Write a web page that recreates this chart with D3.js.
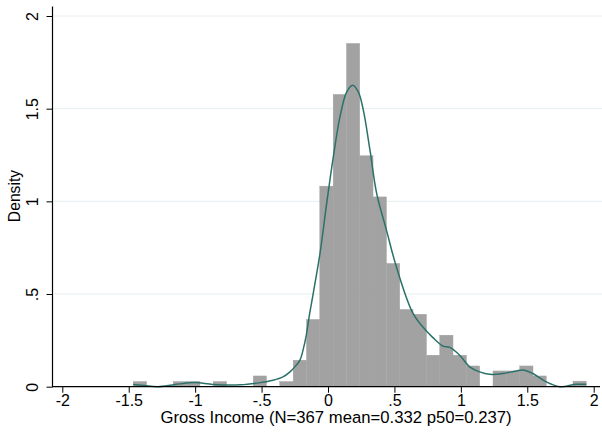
<!DOCTYPE html>
<html>
<head>
<meta charset="utf-8">
<script src="https://cdn.jsdelivr.net/npm/d3@7"></script>
<style>
  html, body { margin: 0; padding: 0; background: #ffffff; }
  svg { display: block; }
  text { font-family: "Liberation Sans", Arial, sans-serif; fill: #000; }
</style>
</head>
<body>
<div id="chart"></div>
<script>
// ---- data ----
const binEdges = [-1.466, -1.366, -1.265, -1.165, -1.065, -0.964, -0.864, -0.764, -0.664,
  -0.563, -0.463, -0.363, -0.262, -0.162, -0.062, 0.039, 0.139, 0.239, 0.339, 0.440,
  0.540, 0.640, 0.741, 0.841, 0.941, 1.042, 1.142, 1.242, 1.342, 1.443, 1.543, 1.643,
  1.744, 1.844, 1.944];
const binDensity = [0.028, 0, 0, 0.028, 0.028, 0, 0.028, 0, 0, 0.058, 0, 0.028, 0.143,
  0.363, 1.082, 1.577, 1.852, 1.246, 1.024, 0.665, 0.417, 0.391, 0.170, 0.278, 0.170,
  0.112, 0, 0.085, 0.085, 0.112, 0.058, 0, 0, 0.030];
const kdX = [-1.466, -1.38, -1.28, -1.15, -1.0, -0.865, -0.66, -0.51, -0.414, -0.339,
  -0.286, -0.24, -0.211, -0.188, -0.163, -0.138, -0.112, -0.06, -0.01, 0.04, 0.09, 0.141,
  0.186, 0.228, 0.266, 0.316, 0.367, 0.44, 0.515, 0.64, 0.741, 0.79, 0.866, 0.916, 0.991,
  1.066, 1.141, 1.216, 1.316, 1.417, 1.479, 1.542, 1.643, 1.743, 1.793, 1.868, 1.944];
const kdY = [0.012, 0.006, 0.0, 0.012, 0.022, 0.012, 0.010, 0.022, 0.035, 0.053,
  0.08, 0.115, 0.143, 0.197, 0.280, 0.395, 0.50, 0.72, 0.989, 1.24, 1.456, 1.591,
  1.627, 1.591, 1.492, 1.276, 1.04, 0.845, 0.646, 0.396, 0.300, 0.265, 0.219, 0.212, 0.170,
  0.107, 0.080, 0.067, 0.071, 0.085, 0.089, 0.071, 0.026, 0.0, 0.003, 0.013, 0.013];
const xTicks = [-2, -1.5, -1, -0.5, 0, 0.5, 1, 1.5, 2];
const xTickLabels = ["-2", "-1.5", "-1", "-.5", "0", ".5", "1", "1.5", "2"];
const yTicks = [0, 0.5, 1, 1.5, 2];
const yTickLabels = ["0", ".5", "1", "1.5", "2"];
const xTitle = "Gross Income (N=367 mean=0.332 p50=0.237)";
const yTitle = "Density";

// ---- layout ----
const W = 602, H = 432;
const plotLeft = 52.5, plotRight = 601, plotTop = 6.5, plotBottom = 386.7;
const FONT = "'Liberation Sans', Arial, sans-serif";

const x = d3.scaleLinear().domain([-2, 2]).range([62.3, 593.7]);
const y = d3.scaleLinear().domain([0, 2]).range([386.7, 16]);

const svg = d3.select("#chart").append("svg")
  .attr("width", W).attr("height", H);

svg.append("rect").attr("width", W).attr("height", H).attr("fill", "#ffffff");

// gridlines
svg.append("g").selectAll("line").data(yTicks.filter(d => d > 0)).join("line")
  .attr("x1", plotLeft + 1).attr("x2", plotRight + 1)
  .attr("y1", d => y(d)).attr("y2", d => y(d))
  .attr("stroke", "#e6eef1").attr("stroke-width", 1);

// bars
const bins = binDensity.map((d, i) => ({ x0: binEdges[i], x1: binEdges[i + 1], d }));
svg.append("g").selectAll("rect").data(bins.filter(b => b.d > 0)).join("rect")
  .attr("x", b => x(b.x0))
  .attr("width", b => x(b.x1) - x(b.x0))
  .attr("y", b => y(b.d))
  .attr("height", b => y(0) - y(b.d))
  .attr("fill", "#a2a2a2")
  .attr("stroke", "#a2a2a2")
  .attr("stroke-width", 0.4);

// kernel density line
const pts = kdX.map((v, i) => [v, kdY[i]]);
svg.append("path")
  .datum(pts)
  .attr("fill", "none")
  .attr("stroke", "#2b7169")
  .attr("stroke-width", 1.5)
  .attr("d", d3.line().x(d => x(d[0])).y(d => y(d[1])).curve(d3.curveCatmullRom.alpha(0.5)));

// x axis
const xAxis = d3.axisBottom(x).tickValues(xTicks)
  .tickFormat((d, i) => xTickLabels[i]).tickSize(6).tickPadding(2);
const gx = svg.append("g").attr("transform", `translate(0,${plotBottom})`).call(xAxis);
gx.select(".domain").remove();
gx.append("line").attr("x1", plotLeft).attr("x2", plotRight - 1)
  .attr("y1", 0).attr("y2", 0).attr("stroke", "#000").attr("stroke-width", 1.2);
gx.selectAll(".tick line").attr("stroke", "#000").attr("stroke-width", 1);
gx.selectAll(".tick text").attr("font-size", 16)
  .style("font-family", FONT).attr("fill", "#000");

// y axis
const yAxis = d3.axisLeft(y).tickValues(yTicks)
  .tickFormat((d, i) => yTickLabels[i]).tickSize(6);
const gy = svg.append("g").attr("transform", `translate(${plotLeft},0)`).call(yAxis);
gy.select(".domain").remove();
gy.append("line").attr("x1", 0).attr("x2", 0)
  .attr("y1", plotTop).attr("y2", plotBottom + 0.6).attr("stroke", "#000").attr("stroke-width", 1.2);
gy.selectAll(".tick line").attr("stroke", "#000").attr("stroke-width", 1);
gy.selectAll(".tick text")
  .attr("x", null).attr("dy", null)
  .attr("transform", "translate(-14.2,0) rotate(-90)")
  .attr("text-anchor", "middle")
  .attr("font-size", 16)
  .style("font-family", FONT).attr("fill", "#000");

// titles
svg.append("text")
  .attr("x", 336).attr("y", 423)
  .attr("text-anchor", "middle")
  .attr("font-size", 16.7)
  .text(xTitle);

svg.append("text")
  .attr("transform", "translate(19.5,196) rotate(-90)")
  .attr("text-anchor", "middle")
  .attr("font-size", 15.7)
  .text(yTitle);
</script>
</body>
</html>
